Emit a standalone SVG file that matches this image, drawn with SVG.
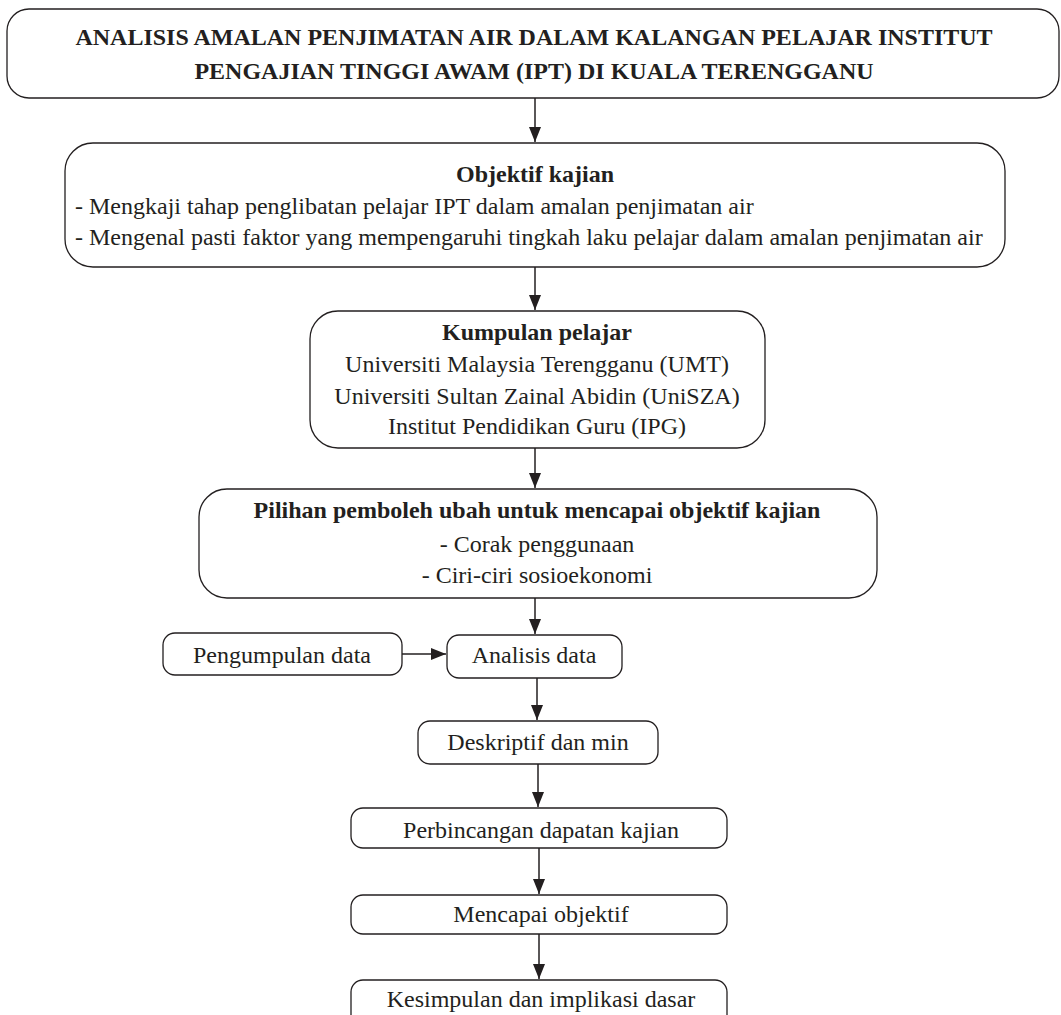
<svg xmlns="http://www.w3.org/2000/svg" width="1061" height="1015" viewBox="0 0 1061 1015">
<defs>
<marker id="ah" viewBox="0 0 15 12" refX="15" refY="6" markerWidth="15" markerHeight="12" markerUnits="userSpaceOnUse" orient="auto">
<path d="M0,0 L15,6 L0,12 z" fill="#231f20"/>
</marker>
<style>
.box{fill:#fff;stroke:#231f20;stroke-width:1.3}
.t{font-family:"Liberation Serif","Times New Roman",serif;font-size:24px;fill:#231f20}
.b{font-weight:bold}
.c{text-anchor:middle}
.conn line{stroke:#231f20;stroke-width:1.5;marker-end:url(#ah)}
</style>
</defs>
<rect width="1061" height="1015" fill="#fff"/>
<g id="title">
<rect class="box" x="7" y="9" width="1052" height="89" rx="22"/>
<text class="t b c" x="534" y="45">ANALISIS AMALAN PENJIMATAN AIR DALAM KALANGAN PELAJAR INSTITUT</text>
<text class="t b c" x="534" y="79">PENGAJIAN TINGGI AWAM (IPT) DI KUALA TERENGGANU</text>
</g>
<g id="objektif">
<rect class="box" x="65" y="143" width="940" height="124" rx="28"/>
<text class="t b c" x="535" y="182">Objektif kajian</text>
<text class="t" x="75" y="214">- Mengkaji tahap penglibatan pelajar IPT dalam amalan penjimatan air</text>
<text class="t" x="75" y="245">- Mengenal pasti faktor yang mempengaruhi tingkah laku pelajar dalam amalan penjimatan air</text>
</g>
<g id="kumpulan">
<rect class="box" x="310" y="311" width="455" height="137" rx="28"/>
<text class="t b c" x="537" y="340">Kumpulan pelajar</text>
<text class="t c" x="537" y="372">Universiti Malaysia Terengganu (UMT)</text>
<text class="t c" x="537" y="404">Universiti Sultan Zainal Abidin (UniSZA)</text>
<text class="t c" x="537" y="434">Institut Pendidikan Guru (IPG)</text>
</g>
<g id="pilihan">
<rect class="box" x="199" y="489" width="678" height="109" rx="28"/>
<text class="t b c" x="537" y="518">Pilihan pemboleh ubah untuk mencapai objektif kajian</text>
<text class="t c" x="537" y="552">- Corak penggunaan</text>
<text class="t c" x="537" y="583">- Ciri-ciri sosioekonomi</text>
</g>
<g id="pengumpulan">
<rect class="box" x="163" y="633" width="239" height="42" rx="12"/>
<text class="t c" x="282" y="663">Pengumpulan data</text>
</g>
<g id="analisis">
<rect class="box" x="447" y="635" width="175" height="43" rx="12"/>
<text class="t c" x="534" y="663">Analisis data</text>
</g>
<g id="deskriptif">
<rect class="box" x="418" y="721" width="240" height="43" rx="12"/>
<text class="t c" x="538" y="750">Deskriptif dan min</text>
</g>
<g id="perbincangan">
<rect class="box" x="351" y="808" width="376" height="40" rx="12"/>
<text class="t c" x="541" y="838">Perbincangan dapatan kajian</text>
</g>
<g id="mencapai">
<rect class="box" x="351" y="895" width="376" height="39" rx="12"/>
<text class="t c" x="541" y="922">Mencapai objektif</text>
</g>
<g id="kesimpulan">
<rect class="box" x="351" y="980" width="376" height="50" rx="12"/>
<text class="t c" x="541" y="1007">Kesimpulan dan implikasi dasar</text>
</g>
<g class="conn" id="connectors">
<line x1="535" y1="98" x2="535" y2="142"/>
<line x1="535" y1="267" x2="535" y2="310"/>
<line x1="535" y1="448" x2="535" y2="488"/>
<line x1="535" y1="598" x2="535" y2="634"/>
<line x1="402" y1="654" x2="446" y2="654"/>
<line x1="537" y1="678" x2="537" y2="720"/>
<line x1="538" y1="764" x2="538" y2="807"/>
<line x1="539" y1="848" x2="539" y2="894"/>
<line x1="539" y1="934" x2="539" y2="979"/>
</g>
</svg>
